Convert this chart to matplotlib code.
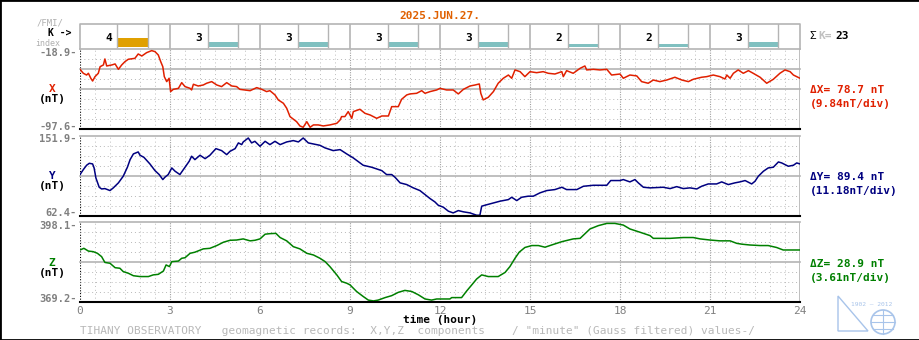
"""
Tihany magnetogram 2025-06-27: X, Y, Z minute values with K index strip
"""

import numpy as np
import matplotlib.pyplot as plt
from matplotlib.patches import Rectangle, Circle, Polygon

# ---- data ----
date_label = "2025.JUN.27."
k_index = [4, 3, 3, 3, 3, 2, 2, 3]

x_range = (-97.6, -18.9)
y_range = (62.4, 151.9)
z_range = (369.2, 398.1)
deltas = [78.7, 89.4, 28.9]
per_div = [9.84, 11.18, 3.61]

x_hours = [0.00, 0.11, 0.22, 0.28, 0.36, 0.42, 0.50, 0.61, 0.67, 0.78,
           0.83, 0.89, 1.06, 1.17, 1.28, 1.39, 1.50, 1.61, 1.83, 1.94,
           2.06, 2.22, 2.39, 2.50, 2.61, 2.69, 2.76, 2.81, 2.89, 2.97,
           3.02, 3.11, 3.28, 3.39, 3.50, 3.67, 3.72, 3.78, 3.94, 4.11,
           4.22, 4.39, 4.56, 4.72, 4.89, 5.06, 5.22, 5.33, 5.50, 5.67,
           5.89, 6.06, 6.22, 6.33, 6.50, 6.61, 6.78, 6.89, 7.00, 7.22,
           7.33, 7.44, 7.56, 7.67, 7.78, 7.94, 8.11, 8.33, 8.56, 8.67,
           8.72, 8.83, 8.94, 9.06, 9.11, 9.33, 9.50, 9.67, 9.89, 10.06,
           10.28, 10.39, 10.61, 10.72, 10.89, 11.00, 11.22, 11.39, 11.50, 11.67,
           11.89, 12.00, 12.22, 12.44, 12.61, 12.78, 13.00, 13.17, 13.31, 13.36,
           13.44, 13.61, 13.78, 13.94, 14.11, 14.28, 14.39, 14.50, 14.67, 14.83,
           15.00, 15.22, 15.44, 15.61, 15.83, 16.06, 16.11, 16.22, 16.44, 16.67,
           16.83, 16.89, 17.11, 17.33, 17.56, 17.72, 18.00, 18.11, 18.33, 18.56,
           18.72, 18.94, 19.11, 19.33, 19.56, 19.83, 20.06, 20.28, 20.44, 20.72,
           20.89, 21.11, 21.33, 21.50, 21.56, 21.67, 21.78, 21.94, 22.11, 22.28,
           22.44, 22.67, 22.89, 23.11, 23.33, 23.50, 23.67, 23.78, 24.00]
x_nt = [-38.6, -42.5, -44.2, -42.5, -47.4, -50.1, -45.8, -42.5, -36.0, -34.3,
        -28.4, -35.3, -34.3, -33.3, -38.6, -34.3, -31.0, -28.7, -27.8, -23.5,
        -25.5, -22.2, -20.2, -21.2, -24.5, -31.0, -36.0, -45.8, -50.7, -47.4,
        -60.5, -58.3, -57.3, -51.7, -55.6, -57.3, -58.9, -53.3, -55.0, -54.0,
        -52.3, -50.7, -54.0, -55.6, -51.7, -55.0, -55.6, -58.3, -58.9, -59.6,
        -56.6, -58.3, -60.5, -59.6, -63.8, -68.7, -72.0, -76.9, -85.1, -90.1,
        -94.3, -95.6, -90.1, -95.6, -93.3, -93.3, -94.3, -93.3, -91.7, -88.4,
        -85.1, -85.1, -80.2, -86.8, -80.2, -77.9, -81.9, -83.5, -86.8, -84.5,
        -84.5, -75.3, -75.3, -68.1, -63.8, -62.8, -62.2, -59.6, -62.2, -60.5,
        -58.9, -57.3, -58.9, -58.9, -62.8, -58.3, -55.0, -54.0, -53.0, -62.2,
        -68.7, -66.1, -60.5, -52.3, -47.4, -44.2, -47.4, -39.2, -40.9, -45.8,
        -40.9, -41.9, -40.9, -42.5, -43.2, -40.9, -45.8, -39.9, -42.5, -37.6,
        -35.3, -39.2, -38.6, -39.2, -38.6, -44.2, -43.2, -47.4, -44.2, -45.1,
        -50.7, -52.3, -49.1, -50.7, -49.1, -46.4, -49.1, -50.7, -48.4, -46.4,
        -45.8, -44.2, -45.8, -48.1, -44.2, -47.4, -42.5, -39.2, -42.5, -39.9,
        -42.5, -46.4, -52.3, -48.4, -42.5, -39.2, -40.9, -44.2, -47.4]

y_hours = [0.00, 0.11, 0.22, 0.31, 0.42, 0.47, 0.53, 0.64, 0.72, 0.83,
           1.00, 1.11, 1.28, 1.44, 1.58, 1.67, 1.78, 1.94, 2.00, 2.13,
           2.33, 2.50, 2.64, 2.76, 2.83, 2.94, 3.06, 3.17, 3.33, 3.50,
           3.64, 3.72, 3.83, 4.00, 4.17, 4.33, 4.53, 4.72, 4.89, 5.00,
           5.17, 5.28, 5.39, 5.44, 5.61, 5.72, 5.83, 6.00, 6.17, 6.33,
           6.50, 6.67, 6.89, 7.11, 7.28, 7.44, 7.61, 7.78, 8.00, 8.17,
           8.44, 8.67, 8.89, 9.11, 9.44, 9.72, 10.06, 10.22, 10.39, 10.50,
           10.67, 10.89, 11.11, 11.33, 11.50, 11.67, 11.83, 11.94, 12.11, 12.28,
           12.44, 12.61, 12.78, 13.00, 13.22, 13.33, 13.39, 13.50, 13.67, 14.00,
           14.28, 14.39, 14.56, 14.72, 14.94, 15.11, 15.33, 15.56, 15.83, 16.06,
           16.22, 16.56, 16.78, 17.11, 17.56, 17.69, 18.00, 18.11, 18.33, 18.50,
           18.61, 18.78, 19.00, 19.44, 19.67, 19.89, 20.11, 20.33, 20.56, 20.72,
           20.94, 21.22, 21.39, 21.61, 21.83, 22.00, 22.17, 22.39, 22.50, 22.61,
           22.78, 22.94, 23.11, 23.28, 23.39, 23.61, 23.78, 23.89, 24.00]
y_nt = [109.1, 114.6, 119.5, 121.7, 121.0, 116.5, 105.3, 94.9, 93.0, 93.4,
        91.2, 94.2, 99.8, 107.2, 117.3, 125.8, 132.2, 134.4, 130.7, 128.4,
        121.0, 113.5, 109.1, 103.5, 106.1, 109.1, 116.5, 112.8, 109.1, 117.3,
        124.0, 129.6, 125.8, 130.7, 126.9, 130.7, 138.1, 135.9, 131.4, 135.1,
        138.1, 144.5, 142.6, 145.6, 150.0, 144.5, 146.3, 140.7, 146.3, 142.6,
        146.3, 142.6, 145.6, 147.1, 145.6, 150.0, 144.5, 143.3, 141.8, 138.9,
        135.9, 137.0, 132.2, 127.7, 119.5, 117.3, 113.5, 109.1, 109.1, 106.1,
        99.8, 97.9, 94.2, 91.2, 86.7, 82.2, 78.5, 74.8, 72.6, 68.1,
        66.2, 68.8, 67.4, 66.2, 63.6, 63.6, 73.7, 74.8, 76.3, 79.3,
        81.1, 83.7, 80.0, 83.7, 84.9, 84.9, 88.6, 91.2, 92.3, 94.9,
        92.3, 92.3, 96.0, 97.1, 97.1, 102.4, 102.4, 103.5, 100.9, 103.5,
        99.8, 94.9, 94.2, 94.9, 93.4, 95.6, 93.4, 94.2, 93.0, 96.0,
        98.6, 98.6, 100.9, 97.9, 99.8, 100.9, 102.4, 98.6, 101.6, 107.2,
        112.8, 116.5, 117.3, 123.2, 122.1, 118.4, 119.5, 122.1, 121.0]

z_hours = [0.00, 0.13, 0.28, 0.44, 0.58, 0.72, 0.83, 1.00, 1.17, 1.33,
           1.44, 1.61, 1.78, 2.00, 2.28, 2.44, 2.61, 2.78, 2.87, 2.98,
           3.06, 3.28, 3.39, 3.50, 3.67, 3.83, 4.11, 4.33, 4.56, 4.78,
           5.00, 5.22, 5.44, 5.67, 5.83, 6.00, 6.17, 6.33, 6.53, 6.67,
           6.89, 7.11, 7.33, 7.56, 7.78, 8.00, 8.17, 8.33, 8.56, 8.72,
           8.89, 9.00, 9.22, 9.44, 9.61, 9.78, 9.94, 10.17, 10.39, 10.61,
           10.83, 11.06, 11.28, 11.50, 11.72, 11.89, 12.33, 12.39, 12.72, 12.89,
           13.06, 13.22, 13.39, 13.61, 13.94, 14.17, 14.33, 14.50, 14.64, 14.83,
           15.06, 15.28, 15.50, 15.72, 16.06, 16.44, 16.67, 17.00, 17.28, 17.56,
           17.83, 18.11, 18.33, 18.67, 19.00, 19.11, 19.67, 20.11, 20.44, 20.67,
           21.00, 21.33, 21.67, 21.89, 22.06, 22.33, 22.67, 22.94, 23.22, 23.44,
           24.00]
z_nt = [388.1, 388.7, 387.7, 387.5, 386.9, 385.7, 383.6, 383.3, 381.7, 381.5,
        380.3, 379.7, 378.8, 378.5, 378.5, 379.1, 379.3, 380.5, 382.7, 382.1,
        383.9, 384.1, 385.1, 385.3, 386.9, 387.3, 388.5, 388.7, 389.7, 390.9,
        391.6, 391.7, 392.1, 391.4, 391.6, 392.1, 393.8, 394.0, 394.1, 392.6,
        391.4, 389.3, 388.5, 386.9, 386.3, 385.1, 383.9, 382.1, 379.1, 376.7,
        376.1, 375.5, 373.1, 371.3, 370.0, 369.7, 370.0, 370.9, 371.6, 372.8,
        373.5, 373.1, 371.9, 370.4, 370.0, 370.4, 370.4, 370.9, 370.9, 373.3,
        375.5, 377.6, 379.1, 378.5, 378.5, 380.0, 382.1, 385.1, 387.3, 389.0,
        389.7, 389.7, 389.1, 389.9, 391.1, 392.1, 392.3, 395.7, 396.9, 397.7,
        397.7, 397.1, 395.7, 394.5, 393.3, 392.3, 392.3, 392.6, 392.6, 392.1,
        391.7, 391.4, 391.4, 390.5, 390.2, 389.9, 389.7, 389.7, 389.0, 388.1,
        388.1]

hour_ticks = list(range(0, 25, 3))

# ---- figure in pixel units ----
W, H = 920, 340
fig = plt.figure(figsize=(9.2, 3.4), dpi=100)
fig.patch.set_facecolor('white')
mono = 'DejaVu Sans Mono'
GRID = '#b4b4b4'
LABEL_GRAY = '#808080'


def fx(px):
    return px / W


def fy(py):
    return 1 - py / H


def ftext(x, y, s, ha='left', color='black', size=8, weight='bold', **kw):
    fig.text(fx(x), fy(y), s, ha=ha, va='center', color=color, fontsize=size,
             fontweight=weight, family=mono, **kw)


def panel(top, vrange, color, hours, vals, solid_divs):
    ax = fig.add_axes([fx(80), fy(top + 80), 720 / W, 80 / H])
    vmin, vmax = vrange
    ax.set_xlim(0, 24)
    ax.set_ylim(vmin, vmax)
    ax.axis('off')
    for h in np.arange(0, 24.01, 0.5):
        if h == 24:
            ax.axvline(h, color=GRID, lw=1.2, zorder=1)
        elif h == 0:
            ax.axvline(h, color='black', lw=0.8, ls=(0, (1, 1.5)), zorder=1)
        elif h % 3 == 0:
            ax.axvline(h, color='#a0a0a0', lw=0.8, ls=(0, (1, 1.2)), zorder=1)
        else:
            ax.axvline(h, color='#bdbdbd', lw=0.7, ls=(0, (1, 3)), zorder=1)
    levels = np.linspace(vmin, vmax, 9)
    for i, lev in enumerate(levels):
        if i == 0:
            ax.axhline(lev, color='black', lw=1.5, zorder=3, clip_on=False)
        elif i in solid_divs:
            ax.axhline(lev, color=GRID, lw=1.2, zorder=1, clip_on=False)
        else:
            ax.axhline(lev, color='#b8b8b8', lw=0.7, ls=(0, (1, 3)), zorder=1)
    ax.plot(hours, vals, color=color, lw=1.1, zorder=2)
    return ax


panel(49.3, x_range, '#e02000', x_hours, x_nt, [4, 6, 8])
panel(136.3, y_range, '#000080', y_hours, y_nt, [4, 8])
panel(222.3, z_range, '#008000', z_hours, z_nt, [4, 8])

# ---- K index strip ----
axk = fig.add_axes([fx(80), fy(49.3), 720 / W, 25 / H])
axk.set_xlim(0, 24)
axk.set_ylim(0, 25)
axk.axis('off')
axk.plot([0, 0, 24, 24], [0, 25, 25, 0], color=GRID, lw=1.2, clip_on=False)
bar_height = {2: 2.7, 3: 4.7, 4: 8.7}
for i, k in enumerate(k_index):
    seg = 3 * i
    if i > 0:
        axk.plot([seg, seg], [0, 25], color=GRID, lw=1.2)
    for cx in (seg + 1.25, seg + 2.25):
        axk.plot([cx, cx], [2.6, 25], color=GRID, lw=1.0)
    bar_color = '#e0a000' if k >= 4 else '#80c0c0'
    axk.add_patch(Rectangle((seg + 1.25, 2.6), 1.0, bar_height[k],
                            facecolor=bar_color, edgecolor='none'))
    axk.text(seg + 0.97, 11, str(k), ha='center', va='center', fontsize=8,
             fontweight='bold', family=mono)

# ---- texts ----
ftext(440, 16, date_label, ha='center', color='#e06000')
ftext(50, 23, "/FMI/", ha='center', color='#b0b0b0', weight='normal', size=6.5)
ftext(60, 33.5, "K ->", ha='center', size=7)
ftext(48, 44, "index", ha='center', color='#b0b0b0', weight='normal', size=6)
fig.text(fx(809), fy(36), "Σ", ha='left', va='center', fontsize=8, family=mono)
ftext(818, 36, "K=", color='#c0c0c0')
ftext(835, 36, "23")

ftext(77, 53.5, f"{x_range[1]:.1f}-", ha='right', color=LABEL_GRAY, size=7.5)
ftext(77, 127, f"{x_range[0]:.1f}-", ha='right', color=LABEL_GRAY, size=7.5)
ftext(77, 139, f"{y_range[1]:.1f}-", ha='right', color=LABEL_GRAY, size=7.5)
ftext(77, 213, f"{y_range[0]:.1f}-", ha='right', color=LABEL_GRAY, size=7.5)
ftext(77, 226, f"{z_range[1]:.1f}-", ha='right', color=LABEL_GRAY, size=7.5)
ftext(77, 299, f"{z_range[0]:.1f}-", ha='right', color=LABEL_GRAY, size=7.5)

for comp, col, yc, d, pd in zip("XYZ", ['#e02000', '#000080', '#008000'],
                                [89, 176, 263], deltas, per_div):
    ftext(52, yc, comp, ha='center', color=col)
    ftext(52, yc + 10, "(nT)", ha='center')
    ftext(810, yc + 1, f"Δ{comp}= {d:.1f} nT", color=col)
    ftext(810, yc + 15, f"({pd:.2f}nT/div)", color=col)

for h in hour_ticks:
    ftext(80 + 30 * h, 311, str(h), ha='center', color=LABEL_GRAY, weight='normal')
ftext(440, 320, "time (hour)", ha='center')
ftext(80, 331, 'TIHANY OBSERVATORY   geomagnetic records:  X,Y,Z  components'
      '    / "minute" (Gauss filtered) values-/', color='#b8b8b8', weight='normal')

# ---- logo ----
logo = '#a8c4ea'
axl = fig.add_axes([fx(832), fy(337), 72 / W, 47 / H])
axl.set_xlim(832, 904)
axl.set_ylim(337, 290)
axl.axis('off')
axl.add_patch(Polygon([[838, 296], [838, 331], [868, 331]], closed=True,
                      fill=False, edgecolor=logo, lw=1))
axl.add_patch(Circle((883, 322), 12, fill=False, edgecolor=logo, lw=1.2))
for dy in (-7, 0, 7):
    half = np.sqrt(12 ** 2 - dy ** 2)
    axl.plot([883 - half, 883 + half], [322 + dy, 322 + dy], color=logo, lw=0.8)
axl.plot([883, 883], [310, 334], color=logo, lw=0.8)
axl.text(872, 304, "1902 — 2012", ha='center', va='center', fontsize=4.5,
         color=logo, family=mono)

fig.add_artist(Rectangle((0, 0), 1, 1, transform=fig.transFigure, fill=False,
                         edgecolor='black', lw=2))

fig.savefig('out.png', dpi=100)
